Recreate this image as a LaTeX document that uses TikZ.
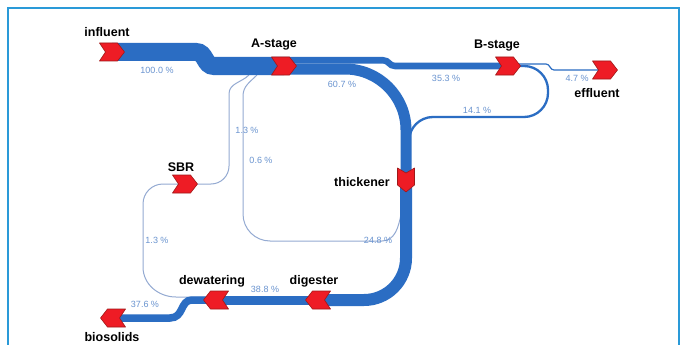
\documentclass[tikz,border=0pt]{standalone}
\usepackage{fontspec}
\setmainfont{Liberation Sans}
\definecolor{bandblue}{HTML}{2B6DC3}
\definecolor{thinblue}{HTML}{94AAD2}
\definecolor{pctblue}{HTML}{6A94D0}
\definecolor{nodered}{HTML}{EE1C25}
\definecolor{nodeedge}{HTML}{A01818}
\definecolor{frameblue}{HTML}{2A9AD8}
\tikzset{
  unit/.style={minimum width=25pt, minimum height=18pt, inner sep=0pt, outer sep=0pt},
  unitv/.style={minimum width=17pt, minimum height=24pt, inner sep=0pt, outer sep=0pt},
  chevfill/.style={fill=nodered, draw=nodeedge, line width=0.6pt, line join=round},
  band/.style={draw=bandblue, line cap=butt},
  thinline/.style={draw=thinblue, line width=1pt},
  lbl/.style={font=\bfseries\fontsize{12.5}{14}\selectfont, text=black, inner sep=0pt},
  pct/.style={font=\fontsize{9}{10}\selectfont, text=pctblue, inner sep=0pt},
}
\newcommand\mychevR[1]{\filldraw[chevfill] (#1.north west) -- ([xshift=-7pt]#1.north east) -- (#1.east) -- ([xshift=-7pt]#1.south east) -- (#1.south west) -- ([xshift=6pt]#1.west) -- cycle;}
\newcommand\mychevL[1]{\filldraw[chevfill] (#1.north east) -- ([xshift=7pt]#1.north west) -- (#1.west) -- ([xshift=7pt]#1.south west) -- (#1.south east) -- ([xshift=-6pt]#1.east) -- cycle;}
\newcommand\mychevD[1]{\filldraw[chevfill] (#1.north west) -- ([yshift=-5pt]#1.north) -- (#1.north east) -- ([yshift=7pt]#1.south east) -- (#1.south) -- ([yshift=7pt]#1.south west) -- cycle;}
\begin{document}
\begin{tikzpicture}[x=1pt,y=-1pt]
\useasboundingbox (0,0) rectangle (682,345);
\fill[white] (0,0) rectangle (682,345);
% frame
\draw[frameblue, line width=1.5pt] (8,345) -- (8,8) -- (679,8) -- (679,345);

% process nodes (invisible anchors)
\node[unit] (inf) at (112,52) {};
\node[unit] (ast) at (284,66) {};
\node[unit] (bst) at (508,66) {};
\node[unit] (eff) at (605,70) {};
\node[unitv] (thk) at (406,180) {};
\node[unit] (sbr) at (185,184) {};
\node[unit] (dig) at (318,300) {};
\node[unit] (dew) at (216,300) {};
\node[unit] (bio) at (113,318) {};
\coordinate (aj1) at (249,75);
\coordinate (aj2) at (257,75);
\coordinate (tj) at (401,214);

% thin return lines
\draw[thinline] (sbr.center) -- (211,184) to[out=0,in=-90] (229,166) -- (229,94) to[out=90,in=-135] (aj1);
\draw[thinline] (tj) to[out=-100,in=0] (382,241) -- (270,241) to[out=180,in=-90] (243,214) -- (243,96) to[out=90,in=-135] (aj2);
\draw[thinline] ([yshift=3pt]dew.center) -- (176,297) to[out=180,in=-90] (143,267) -- (143,204) to[out=90,in=180] (163,184) -- (sbr.center);

% B-stage to thickener and effluent
\draw[band, line width=2.3pt, rounded corners=24pt] (bst.center) -- (548,66) -- (548,117) -- (409,117) -- ([xshift=3pt]thk.center);
\draw[band, line width=1.2pt] ([yshift=2pt]bst.center) -- (546,64) .. controls (550,64) and (550,70) .. (554,70) -- (eff.center);

% main bands
\draw[band, line width=18pt] (inf.center) -- (196,52) .. controls (206,52) and (204,66) .. (214,66) -- (ast.center);
\draw[band, line width=6.5pt] ([yshift=5.75pt]ast.center) -- (383,60.25) .. controls (389,60.25) and (389,66) .. (395,66) -- (bst.center);
\draw[band, line width=11pt, rounded corners=61pt] ([yshift=-3pt]ast.center) -| (thk.center);
\draw[band, line width=12pt, rounded corners=42pt] (thk.center) |- (dig.center);
\draw[band, line width=9pt] (dig.center) -- (dew.center);
\draw[band, line width=7.5pt] (dew.center) -- (192,300) .. controls (180,300) and (184,318) .. (170,318) -- (bio.center);

% chevrons
\mychevR{inf}
\mychevR{ast}
\mychevR{bst}
\mychevR{eff}
\mychevR{sbr}
\mychevD{thk}
\mychevL{dig}
\mychevL{dew}
\mychevL{bio}

% names
\node[lbl] (tinf) at (107,32) {influent};
\node[lbl] (tast) at (274,45) {A-stage};
\node[lbl] (tbst) at (497,46) {B-stage};
\node[lbl] (teff) at (597,93) {effluent};
\node[lbl] (tsbr) at (181,167) {SBR};
\node[lbl] (tthk) at (362,182) {thickener};
\node[lbl] (tdig) at (314,281) {digester};
\node[lbl] (tdew) at (212,281) {dewatering};
\node[lbl] (tbio) at (112,337.5) {biosolids};

% percentages
\node[pct] (p1) at (157,70) {100.0 \%};
\node[pct] (p2) at (342,84) {60.7 \%};
\node[pct] (p3) at (446,78) {35.3 \%};
\node[pct] (p4) at (477,110) {14.1 \%};
\node[pct] (p5) at (577,78) {4.7 \%};
\node[pct] (p6) at (247,130) {1.3 \%};
\node[pct] (p7) at (261,160) {0.6 \%};
\node[pct] (p8) at (378,240) {24.8 \%};
\node[pct] (p9) at (157,240) {1.3 \%};
\node[pct] (p10) at (265,289) {38.8 \%};
\node[pct] (p11) at (145,304) {37.6 \%};
\end{tikzpicture}
\end{document}
